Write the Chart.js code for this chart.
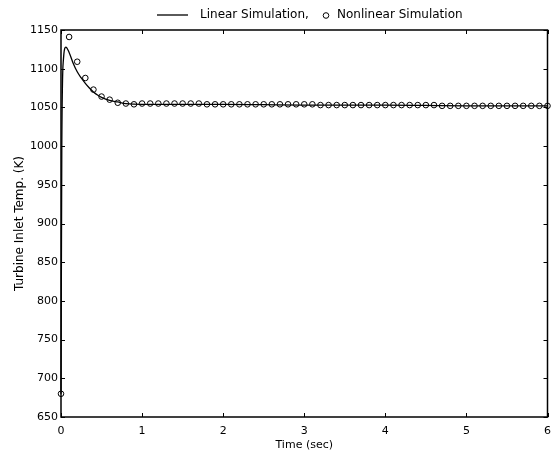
<!DOCTYPE html>
<html>
<head>
<meta charset="utf-8">
<script src="https://cdn.jsdelivr.net/npm/chart.js@4.4.1/dist/chart.umd.min.js"></script>
<style>
  html, body { margin: 0; padding: 0; background: #fff; }
  #wrap { width: 559px; height: 457px; position: relative; }
</style>
</head>
<body>
<div id="wrap"><canvas id="c" width="559" height="457"></canvas></div>
<script>
// ---- data ----
const linearTime = [0, 0.01, 0.03, 0.06, 0.1, 0.15, 0.2, 0.25, 0.3, 0.35, 0.4, 0.45, 0.5, 0.6, 0.7, 0.8, 1.0, 1.5, 2.0, 3.0, 4.0, 5.0, 6.0];
const linearTemp = [680, 1000, 1112, 1128, 1121, 1107, 1096, 1088, 1081, 1075, 1070, 1066, 1063, 1059, 1057, 1055, 1054, 1054, 1054, 1053, 1053, 1052, 1052];

const nonlinearTime = [0, 0.1, 0.2, 0.3, 0.4, 0.5, 0.6, 0.7, 0.8, 0.9,
  1.0, 1.1, 1.2, 1.3, 1.4, 1.5, 1.6, 1.7, 1.8, 1.9,
  2.0, 2.1, 2.2, 2.3, 2.4, 2.5, 2.6, 2.7, 2.8, 2.9,
  3.0, 3.1, 3.2, 3.3, 3.4, 3.5, 3.6, 3.7, 3.8, 3.9,
  4.0, 4.1, 4.2, 4.3, 4.4, 4.5, 4.6, 4.7, 4.8, 4.9,
  5.0, 5.1, 5.2, 5.3, 5.4, 5.5, 5.6, 5.7, 5.8, 5.9, 6.0];
const nonlinearTemp = [680, 1141, 1109, 1088, 1073, 1064, 1060, 1056, 1055, 1054,
  1055, 1055, 1055, 1055, 1055, 1055, 1055, 1055, 1054, 1054,
  1054, 1054, 1054, 1054, 1054, 1054, 1054, 1054, 1054, 1054,
  1054, 1054, 1053, 1053, 1053, 1053, 1053, 1053, 1053, 1053,
  1053, 1053, 1053, 1053, 1053, 1053, 1053, 1052, 1052, 1052,
  1052, 1052, 1052, 1052, 1052, 1052, 1052, 1052, 1052, 1052, 1052];

const xTicks = [0, 1, 2, 3, 4, 5, 6];
const yTicks = [650, 700, 750, 800, 850, 900, 950, 1000, 1050, 1100, 1150];

const seriesNames = ['Linear Simulation,', 'Nonlinear Simulation'];
const xTitle = 'Time (sec)';
const yTitle = 'Turbine Inlet Temp. (K)';

const FONT = '"DejaVu Sans", "Liberation Sans", Arial, sans-serif';

const zip = (xs, ys) => xs.map((x, i) => ({ x: x, y: ys[i] }));

const framePlugin = {
  id: 'frame',
  afterDraw(chart) {
    const ctx = chart.ctx;
    const a = chart.chartArea;
    const xs = chart.scales.x, ys = chart.scales.y;
    ctx.save();
    ctx.strokeStyle = '#000';
    ctx.lineWidth = 1.5;
    ctx.strokeRect(a.left, a.top, a.right - a.left, a.bottom - a.top);
    ctx.lineWidth = 1;
    const tl = 4;
    ctx.beginPath();
    xTicks.forEach(v => {
      const px = Math.round(xs.getPixelForValue(v)) + 0.5;
      ctx.moveTo(px, a.bottom); ctx.lineTo(px, a.bottom - tl);
      ctx.moveTo(px, a.top); ctx.lineTo(px, a.top + tl);
    });
    yTicks.forEach(v => {
      const py = Math.round(ys.getPixelForValue(v)) + 0.5;
      ctx.moveTo(a.left, py); ctx.lineTo(a.left + tl, py);
      ctx.moveTo(a.right, py); ctx.lineTo(a.right - tl, py);
    });
    ctx.stroke();

    // axis titles
    ctx.fillStyle = '#000';
    ctx.font = '11px ' + FONT;
    ctx.textAlign = 'center';
    ctx.textBaseline = 'middle';
    ctx.fillText(xTitle, (a.left + a.right) / 2, 445);
    ctx.save();
    ctx.translate(20, (a.top + a.bottom) / 2);
    ctx.rotate(-Math.PI / 2);
    ctx.font = '12px ' + FONT;
    ctx.fillText(yTitle, 0, 0);
    ctx.restore();

    // legend
    ctx.font = '12px ' + FONT;
    ctx.textAlign = 'left';
    ctx.textBaseline = 'middle';
    ctx.lineWidth = 1.3;
    ctx.beginPath();
    ctx.moveTo(157, 15); ctx.lineTo(188, 15);
    ctx.stroke();
    ctx.fillText(seriesNames[0], 200, 15);
    ctx.lineWidth = 1;
    ctx.beginPath();
    ctx.arc(326, 15.5, 2.8, 0, Math.PI * 2);
    ctx.stroke();
    ctx.fillText(seriesNames[1], 337, 15);
    ctx.restore();
  }
};

new Chart(document.getElementById('c'), {
  type: 'scatter',
  data: {
    datasets: [
      {
        type: 'line',
        label: seriesNames[0],
        data: zip(linearTime, linearTemp),
        borderColor: '#000',
        borderWidth: 1.3,
        pointRadius: 0,
        fill: false,
        cubicInterpolationMode: 'monotone',
        clip: false
      },
      {
        type: 'scatter',
        label: seriesNames[1],
        data: zip(nonlinearTime, nonlinearTemp),
        pointStyle: 'circle',
        pointRadius: 2.8,
        pointBorderWidth: 1,
        borderColor: '#000',
        backgroundColor: 'rgba(0,0,0,0)',
        clip: false
      }
    ]
  },
  options: {
    responsive: false,
    animation: false,
    devicePixelRatio: 1,
    layout: { padding: { left: 0, top: 30, right: 7, bottom: 0 } },
    plugins: { legend: { display: false }, title: { display: false }, tooltip: { enabled: false } },
    scales: {
      x: {
        type: 'linear',
        min: 0, max: 6,
        afterFit: s => { s.height = 40; },
        afterBuildTicks: s => { s.ticks = xTicks.map(v => ({ value: v })); },
        ticks: { color: '#000', font: { family: FONT, size: 11 }, padding: 8, maxRotation: 0,
                 callback: v => String(v) },
        grid: { display: false, drawTicks: false },
        border: { display: false }
      },
      y: {
        type: 'linear',
        min: 650, max: 1150,
        afterFit: s => { s.width = 61; },
        afterBuildTicks: s => { s.ticks = yTicks.map(v => ({ value: v })); },
        ticks: { color: '#000', font: { family: FONT, size: 11 }, padding: 3,
                 callback: v => String(v) },
        grid: { display: false, drawTicks: false },
        border: { display: false }
      }
    }
  },
  plugins: [framePlugin]
});
</script>
</body>
</html>
